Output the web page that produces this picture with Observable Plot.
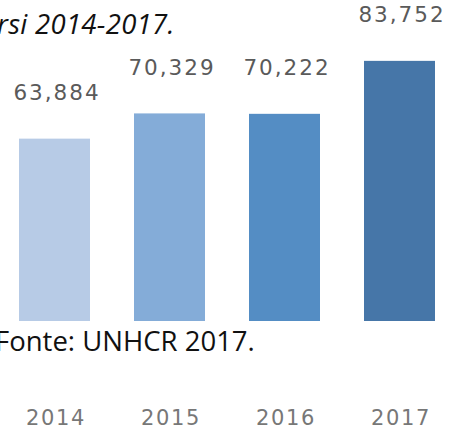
<!DOCTYPE html>
<html>
<head>
<meta charset="utf-8">
<script src="https://cdn.jsdelivr.net/npm/d3@7"></script>
<script src="https://cdn.jsdelivr.net/npm/@observablehq/plot@0.6"></script>
<style>
  html, body { margin: 0; padding: 0; background: #fff; overflow: hidden; }
  #wrap { position: relative; width: 451px; height: 434px; }
  #chart { position: absolute; left: 0; top: 0; }
  .title { position: absolute; left: -3px; top: 10px; line-height: 1; font-family: "Open Sans", sans-serif; font-style: italic; font-size: 27.5px; letter-spacing: 0.3px; color: #111; white-space: nowrap; z-index: 2; }
  .caption { position: absolute; left: -5px; top: 327px; line-height: 1; font-family: "Open Sans", sans-serif; font-size: 27.5px; color: #111; white-space: nowrap; z-index: 2; }
</style>
</head>
<body>
<div id="wrap">
  <div id="chart"></div>
  <div class="title">rsi 2014-2017.</div>
  <div class="caption">Fonte: UNHCR 2017.</div>
</div>
<script>
const years = ["2014", "2015", "2016", "2017"];
const values = [63884, 70329, 70222, 83752];
const colors = ["#b7cbe6", "#84acd8", "#548dc4", "#4676a8"];
const yBase = 17300;

const data = years.map((year, i) => ({ year, value: values[i], color: colors[i] }));

const chart = Plot.plot({
  width: 451,
  height: 434,
  marginLeft: 18,
  marginRight: 14,
  marginTop: 0,
  marginBottom: 113,
  style: { background: "transparent", fontFamily: "DejaVu Sans, sans-serif" },
  x: { domain: years, paddingInner: 0.38, paddingOuter: 0, label: null },
  y: { domain: [yBase, 99300], axis: null },
  marks: [
    Plot.barY(data, { x: "year", y1: yBase, y2: "value", fill: "color" }),
    Plot.text(data, {
      x: "year", y: "value", text: d => d3.format(",")(d.value),
      dy: -46, dx: 2, fontSize: 21.5, fill: "#5a5a5a",
      fontFamily: "DejaVu Sans, sans-serif"
    }),
    Plot.axisX({
      tickSize: 0, tickPadding: 89, dx: 1, fontSize: 21, color: "#777",
      fontFamily: "DejaVu Sans, sans-serif", label: null
    })
  ]
});
chart.querySelectorAll('g[aria-label="text"] text').forEach(t => t.style.letterSpacing = "2px");
chart.querySelectorAll('g[aria-label="x-axis tick label"] text').forEach(t => t.style.letterSpacing = "1.7px");
document.getElementById("chart").appendChild(chart);
</script>
</body>
</html>
